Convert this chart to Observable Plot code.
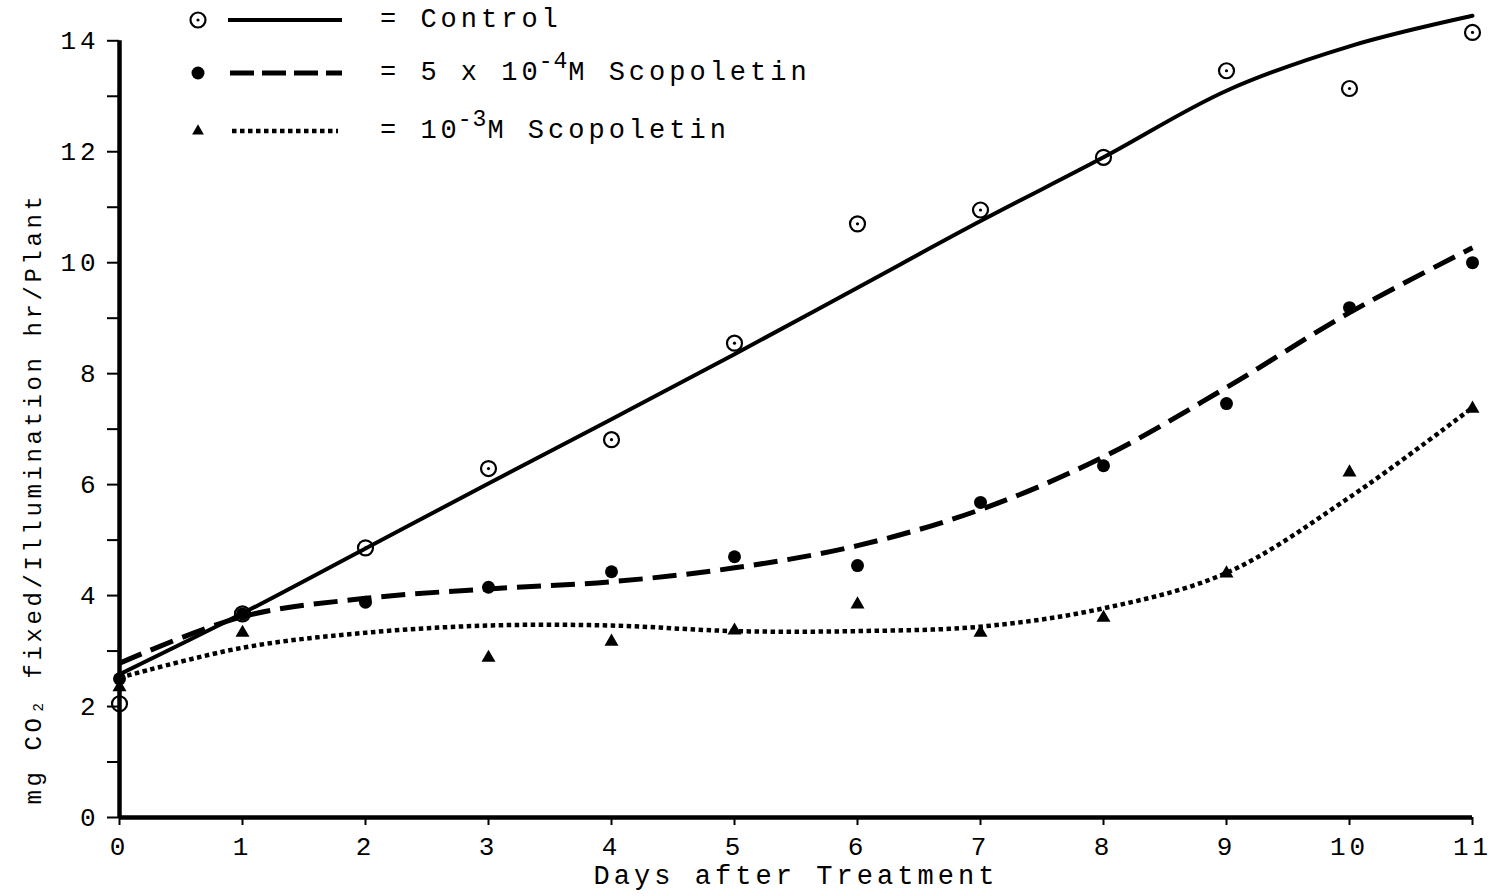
<!DOCTYPE html>
<html><head><meta charset="utf-8">
<script src="https://cdn.jsdelivr.net/npm/d3@7"></script>
<script src="https://cdn.jsdelivr.net/npm/@observablehq/plot@0.6"></script>
<style>
html,body{margin:0;padding:0;background:#fff;}
#wrap{position:relative;width:1494px;height:896px;overflow:hidden;}
#chart svg text{letter-spacing:0.15em;}
#legend{position:absolute;left:0;top:0;font-family:"Liberation Mono",monospace;font-size:27px;letter-spacing:4px;color:#000;}
.row{position:absolute;left:180px;height:36px;display:flex;align-items:center;white-space:nowrap;}
.row svg{display:block;}
.sup{position:relative;top:-12px;font-size:23px;letter-spacing:1px;margin-left:-3px;}
</style></head><body>
<div id="wrap"><div id="chart"></div><div id="legend"></div></div>
<script>
// ---- data ----
const days = [0, 1, 2, 3, 4, 5, 6, 7, 8, 9, 10, 11];
const controlObs = [2.05, 3.67, 4.86, 6.29, 6.81, 8.55, 10.7, 10.95, 11.9, 13.46, 13.14, 14.15];
const scop5e4Obs = [2.5, 3.67, 3.88, 4.15, 4.43, 4.7, 4.54, 5.68, 6.34, 7.46, 9.19, 10.0];
const scop1e3Obs = [2.35, 3.33, null, 2.88, 3.17, 3.37, 3.84, 3.33, 3.6, 4.4, 6.22, 7.37];
const controlFit = [2.58, 3.68, 4.85, 6.02, 7.18, 8.35, 9.55, 10.75, 11.9, 13.1, 13.9, 14.45];
const scop5e4Fit = [2.78, 3.62, 3.95, 4.12, 4.25, 4.5, 4.9, 5.55, 6.5, 7.75, 9.1, 10.27];
const scop1e3Fit = [2.52, 3.06, 3.33, 3.46, 3.46, 3.36, 3.36, 3.44, 3.77, 4.41, 5.77, 7.39];
const yTicks = [0, 1, 2, 3, 4, 5, 6, 7, 8, 9, 10, 11, 12, 13, 14];
const xTicks = [0, 1, 2, 3, 4, 5, 6, 7, 8, 9, 10, 11];
const xLabel = "Days after Treatment";
const yLabel = "mg CO\u2082 fixed/Illumination hr/Plant";
const legendTexts = [["= Control", "", ""], ["= 5 x 10", "-4", "M Scopoletin"], ["= 10", "-3", "M Scopoletin"]];
const legendKinds = ["control", "scop5e4", "scop1e3"];

const rows = vals => days.map((d, i) => ({day: d, value: vals[i]})).filter(r => r.value != null);

const dashLong = "24,10";
const dotShort = "4.5,3.5";

const chart = Plot.plot({
  width: 1494,
  height: 896,
  marginLeft: 119,
  marginRight: 22,
  marginTop: 7,
  marginBottom: 79,
  x: {domain: [0, 11]},
  y: {domain: [0, 14.6]},
  style: {fontFamily: "'Liberation Mono', monospace", fontSize: "26px", color: "#000", background: "#fff"},
  marks: [
    Plot.axisY({ticks: yTicks, tickSize: 12, tickPadding: 8, tickFormat: d => d % 2 === 0 ? String(d) : "", label: null, strokeWidth: 2, fontSize: 26}),
    Plot.axisX({ticks: xTicks, tickSize: 8, tickPadding: 11, tickFormat: d => String(d), label: null, strokeWidth: 2, fontSize: 26}),
    Plot.ruleX([xTicks[0]], {y1: yTicks[0], y2: yTicks[yTicks.length - 1], strokeWidth: 4.5}),
    Plot.ruleY([yTicks[0]], {x1: xTicks[0], x2: xTicks[xTicks.length - 1], strokeWidth: 4.5}),
    Plot.line(rows(controlFit), {x: "day", y: "value", curve: "catmull-rom", stroke: "#000", strokeWidth: 4}),
    Plot.line(rows(scop5e4Fit), {x: "day", y: "value", curve: "catmull-rom", stroke: "#000", strokeWidth: 5, strokeDasharray: dashLong, strokeLinecap: "butt"}),
    Plot.line(rows(scop1e3Fit), {x: "day", y: "value", curve: "catmull-rom", stroke: "#000", strokeWidth: 4.5, strokeDasharray: dotShort, strokeLinecap: "butt"}),
    Plot.dot(rows(controlObs), {x: "day", y: "value", r: 7.5, stroke: "#000", strokeWidth: 2.2, fill: "none"}),
    Plot.dot(rows(controlObs), {x: "day", y: "value", r: 1.6, fill: "#000", stroke: "none"}),
    Plot.dot(rows(scop5e4Obs), {x: "day", y: "value", r: 6.5, fill: "#000", stroke: "none"}),
    Plot.dot(rows(scop1e3Obs), {x: "day", y: "value", r: 5.2, symbol: "triangle", fill: "#000", stroke: "none"}),
    Plot.text([yLabel], {text: d => d, frameAnchor: "left", textAnchor: "middle", lineAnchor: "middle", rotate: -90, dx: -86, dy: 86, fontSize: 24}),
    Plot.text([xLabel], {text: d => d, frameAnchor: "bottom", textAnchor: "middle", lineAnchor: "middle", dy: 58, fontSize: 27})
  ]
});
document.getElementById("chart").appendChild(chart);

// ---- legend (HTML overlay) ----
const legendTops = [2, 55, 113];
const legend = d3.select("#legend");
legendKinds.forEach((kind, i) => {
  const row = legend.append("div").attr("class", "row").style("top", legendTops[i] + "px");
  const svg = row.append("svg").attr("width", 200).attr("height", 36);
  if (kind === "control") {
    svg.append("circle").attr("cx", 18).attr("cy", 18).attr("r", 7.5).attr("fill", "none").attr("stroke", "#000").attr("stroke-width", 2.2);
    svg.append("circle").attr("cx", 18).attr("cy", 18).attr("r", 1.6).attr("fill", "#000");
    svg.append("line").attr("x1", 48).attr("x2", 162).attr("y1", 18).attr("y2", 18).attr("stroke", "#000").attr("stroke-width", 4);
  } else if (kind === "scop5e4") {
    svg.append("circle").attr("cx", 18).attr("cy", 18).attr("r", 6.5).attr("fill", "#000");
    svg.append("line").attr("x1", 50).attr("x2", 162).attr("y1", 18).attr("y2", 18).attr("stroke", "#000").attr("stroke-width", 5).attr("stroke-dasharray", "24,8");
  } else {
    svg.append("path").attr("d", d3.symbol(d3.symbolTriangle, 60)()).attr("transform", "translate(18,18)").attr("fill", "#000");
    svg.append("line").attr("x1", 52).attr("x2", 158).attr("y1", 18).attr("y2", 18).attr("stroke", "#000").attr("stroke-width", 4.5).attr("stroke-dasharray", dotShort);
  }
  const t = legendTexts[i];
  const span = row.append("span");
  span.append("span").text(t[0]);
  if (t[1]) span.append("span").attr("class", "sup").text(t[1]);
  if (t[2]) span.append("span").text(t[2]);
});
</script>
</body></html>
